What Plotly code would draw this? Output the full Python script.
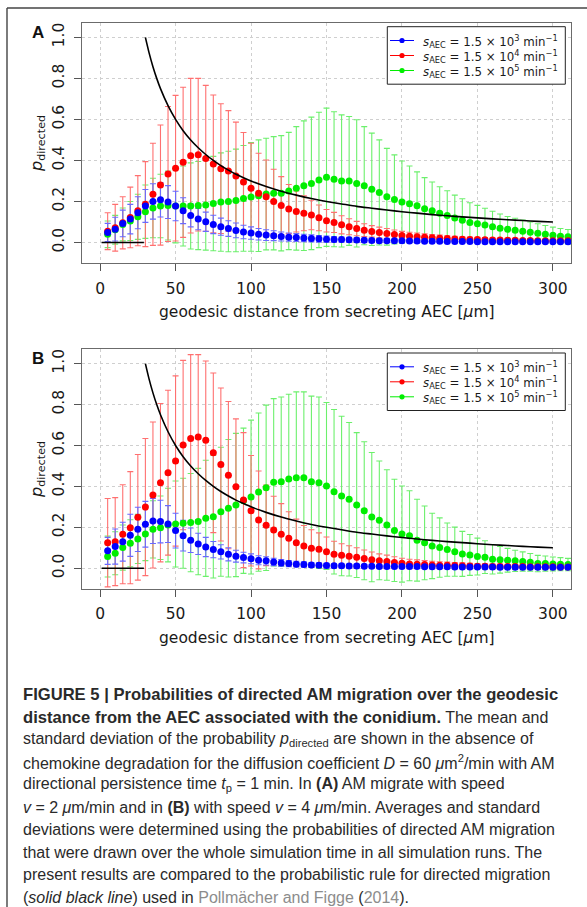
import plotly.graph_objects as go

# ---------------- data ----------------
dist = [5, 10, 15, 20, 25, 30, 35, 40, 45, 50, 55, 60, 65, 70, 75, 80, 85, 90, 95, 100,
        105, 110, 115, 120, 125, 130, 135, 140, 145, 150, 155, 160, 165, 170, 175, 180, 185, 190, 195, 200,
        205, 210, 215, 220, 225, 230, 235, 240, 245, 250, 255, 260, 265, 270, 275, 280, 285, 290, 295, 300,
        305, 310]

# Panel A (v = 2 um/min)
blue_A_mean = [0.049, 0.065, 0.093, 0.114, 0.145, 0.178, 0.200, 0.208, 0.197, 0.178, 0.155, 0.132, 0.114, 0.101, 0.088, 0.077, 0.068, 0.059, 0.051, 0.046,
               0.040, 0.036, 0.033, 0.029, 0.026, 0.024, 0.022, 0.020, 0.018, 0.016, 0.015, 0.014, 0.013, 0.012, 0.011, 0.010, 0.009, 0.009, 0.008, 0.008,
               0.007, 0.007, 0.006, 0.006, 0.006, 0.005, 0.005, 0.005, 0.005, 0.004, 0.004, 0.004, 0.004, 0.004, 0.003, 0.003, 0.003, 0.003, 0.003, 0.003,
               0.003, 0.003]
blue_A_sd = [0.044, 0.058, 0.065, 0.072, 0.078, 0.080, 0.086, 0.084, 0.080, 0.072, 0.063, 0.056, 0.052, 0.047, 0.045, 0.042, 0.038, 0.036, 0.033, 0.030,
             0.028, 0.026, 0.024, 0.022, 0.020, 0.019, 0.018, 0.017, 0.016, 0.015, 0.014, 0.013, 0.012, 0.011, 0.011, 0.010, 0.010, 0.009, 0.009, 0.008,
             0.008, 0.008, 0.007, 0.007, 0.007, 0.007, 0.006, 0.006, 0.006, 0.006, 0.006, 0.006, 0.005, 0.005, 0.005, 0.005, 0.005, 0.005, 0.005, 0.005,
             0.005, 0.005]
red_A_mean = [0.055, 0.072, 0.096, 0.122, 0.155, 0.187, 0.235, 0.280, 0.334, 0.362, 0.391, 0.423, 0.428, 0.410, 0.383, 0.360, 0.349, 0.324, 0.295, 0.264,
              0.240, 0.223, 0.200, 0.180, 0.163, 0.151, 0.142, 0.134, 0.120, 0.106, 0.098, 0.086, 0.077, 0.068, 0.060, 0.054, 0.049, 0.044, 0.039, 0.034,
              0.031, 0.028, 0.025, 0.023, 0.021, 0.019, 0.017, 0.016, 0.015, 0.014, 0.013, 0.012, 0.012, 0.011, 0.011, 0.010, 0.010, 0.009, 0.009, 0.008,
              0.008, 0.008]
red_A_sd = [0.090, 0.114, 0.127, 0.148, 0.171, 0.207, 0.249, 0.293, 0.329, 0.355, 0.366, 0.377, 0.372, 0.356, 0.336, 0.316, 0.294, 0.263, 0.241, 0.220,
            0.195, 0.179, 0.157, 0.141, 0.120, 0.100, 0.085, 0.072, 0.063, 0.055, 0.049, 0.044, 0.039, 0.035, 0.031, 0.028, 0.026, 0.024, 0.022, 0.020,
            0.019, 0.018, 0.017, 0.016, 0.015, 0.014, 0.013, 0.012, 0.012, 0.011, 0.011, 0.010, 0.010, 0.010, 0.009, 0.009, 0.009, 0.008, 0.008, 0.008,
            0.008, 0.008]
green_A_mean = [0.040, 0.062, 0.088, 0.105, 0.125, 0.150, 0.168, 0.178, 0.180, 0.178, 0.178, 0.178, 0.180, 0.183, 0.190, 0.197, 0.200, 0.205, 0.215, 0.222,
                0.228, 0.236, 0.240, 0.240, 0.251, 0.264, 0.277, 0.288, 0.305, 0.318, 0.308, 0.300, 0.300, 0.288, 0.277, 0.259, 0.244, 0.223, 0.210, 0.197,
                0.189, 0.179, 0.164, 0.155, 0.142, 0.132, 0.119, 0.109, 0.098, 0.091, 0.085, 0.077, 0.070, 0.064, 0.060, 0.055, 0.050, 0.045, 0.040, 0.035,
                0.031, 0.028]
green_A_sd = [0.065, 0.070, 0.080, 0.095, 0.110, 0.130, 0.145, 0.155, 0.168, 0.180, 0.195, 0.210, 0.215, 0.220, 0.230, 0.240, 0.245, 0.250, 0.258, 0.265,
              0.272, 0.272, 0.276, 0.281, 0.286, 0.301, 0.316, 0.323, 0.330, 0.337, 0.329, 0.322, 0.314, 0.310, 0.288, 0.274, 0.256, 0.236, 0.217, 0.200,
              0.184, 0.165, 0.152, 0.140, 0.130, 0.120, 0.112, 0.104, 0.096, 0.090, 0.082, 0.075, 0.069, 0.063, 0.058, 0.054, 0.050, 0.046, 0.043, 0.040,
              0.037, 0.035]

# Panel B (v = 4 um/min)
blue_B_mean = [0.085, 0.106, 0.130, 0.161, 0.190, 0.215, 0.231, 0.228, 0.216, 0.184, 0.159, 0.137, 0.119, 0.104, 0.091, 0.080, 0.068, 0.059, 0.052, 0.046,
               0.039, 0.036, 0.031, 0.026, 0.023, 0.020, 0.018, 0.016, 0.015, 0.013, 0.012, 0.012, 0.011, 0.011, 0.010, 0.010, 0.009, 0.009, 0.009, 0.008,
               0.008, 0.008, 0.007, 0.007, 0.007, 0.007, 0.006, 0.006, 0.006, 0.006, 0.006, 0.006, 0.005, 0.005, 0.005, 0.005, 0.005, 0.005, 0.005, 0.005,
               0.005, 0.005]
blue_B_sd = [0.066, 0.086, 0.095, 0.103, 0.108, 0.112, 0.110, 0.104, 0.090, 0.085, 0.075, 0.060, 0.052, 0.047, 0.040, 0.035, 0.032, 0.029, 0.026, 0.024,
             0.022, 0.020, 0.018, 0.016, 0.015, 0.014, 0.013, 0.012, 0.011, 0.011, 0.010, 0.010, 0.010, 0.009, 0.009, 0.009, 0.008, 0.008, 0.008, 0.008,
             0.008, 0.007, 0.007, 0.007, 0.007, 0.007, 0.007, 0.006, 0.006, 0.006, 0.006, 0.006, 0.006, 0.006, 0.006, 0.006, 0.006, 0.006, 0.006, 0.006,
             0.006, 0.006]
red_B_mean = [0.125, 0.130, 0.166, 0.198, 0.249, 0.299, 0.358, 0.418, 0.467, 0.524, 0.602, 0.634, 0.641, 0.626, 0.564, 0.507, 0.455, 0.398, 0.333, 0.281,
              0.236, 0.210, 0.187, 0.166, 0.146, 0.125, 0.109, 0.098, 0.093, 0.081, 0.068, 0.063, 0.059, 0.054, 0.047, 0.041, 0.036, 0.033, 0.028, 0.024,
              0.021, 0.020, 0.018, 0.016, 0.015, 0.014, 0.013, 0.012, 0.011, 0.010, 0.010, 0.009, 0.009, 0.008, 0.008, 0.008, 0.007, 0.007, 0.007, 0.007,
              0.006, 0.006]
red_B_sd = [0.216, 0.215, 0.242, 0.274, 0.307, 0.335, 0.357, 0.387, 0.403, 0.416, 0.414, 0.410, 0.403, 0.387, 0.390, 0.374, 0.360, 0.332, 0.330, 0.270,
            0.239, 0.197, 0.165, 0.150, 0.130, 0.115, 0.100, 0.090, 0.080, 0.072, 0.064, 0.057, 0.051, 0.046, 0.042, 0.038, 0.034, 0.031, 0.028, 0.025,
            0.023, 0.021, 0.019, 0.018, 0.017, 0.016, 0.015, 0.014, 0.013, 0.012, 0.012, 0.011, 0.011, 0.010, 0.010, 0.010, 0.009, 0.009, 0.009, 0.008,
            0.008, 0.008]
green_B_mean = [0.057, 0.073, 0.101, 0.122, 0.143, 0.167, 0.190, 0.198, 0.211, 0.216, 0.220, 0.223, 0.228, 0.244, 0.252, 0.276, 0.293, 0.309, 0.330, 0.348,
                0.372, 0.393, 0.420, 0.423, 0.436, 0.442, 0.442, 0.423, 0.418, 0.402, 0.374, 0.353, 0.337, 0.309, 0.281, 0.250, 0.234, 0.211, 0.185, 0.167,
                0.159, 0.137, 0.124, 0.109, 0.101, 0.091, 0.081, 0.070, 0.065, 0.057, 0.054, 0.044, 0.041, 0.039, 0.036, 0.033, 0.029, 0.023, 0.023, 0.021,
                0.020, 0.018]
green_B_sd = [0.100, 0.105, 0.110, 0.115, 0.120, 0.130, 0.140, 0.155, 0.180, 0.210, 0.220, 0.240, 0.260, 0.284, 0.300, 0.315, 0.336, 0.350, 0.355, 0.376,
              0.387, 0.404, 0.409, 0.414, 0.414, 0.420, 0.420, 0.418, 0.419, 0.408, 0.402, 0.390, 0.375, 0.354, 0.337, 0.316, 0.290, 0.270, 0.250, 0.235,
              0.220, 0.200, 0.180, 0.160, 0.145, 0.130, 0.120, 0.110, 0.100, 0.090, 0.080, 0.072, 0.065, 0.058, 0.052, 0.047, 0.043, 0.040, 0.037, 0.034,
              0.032, 0.030]

# probabilistic rule (solid black line)
rule_x = [1, 29, None, 30, 32.5, 35, 37.5, 40, 45, 50, 55, 60, 65, 70, 75, 80, 85, 90, 95, 100,
          110, 120, 130, 140, 150, 160, 170, 180, 190, 200, 210, 220, 230, 240, 250, 260, 270, 280, 290, 300]
rule_y = [0.0, 0.0, None, 1.000, 0.923, 0.857, 0.800, 0.750, 0.667, 0.600, 0.545, 0.500, 0.462, 0.429, 0.400, 0.375, 0.353, 0.333, 0.316, 0.300,
          0.273, 0.250, 0.231, 0.214, 0.200, 0.188, 0.176, 0.167, 0.158, 0.150, 0.143, 0.136, 0.130, 0.125, 0.120, 0.115, 0.111, 0.107, 0.103, 0.100]

x_ticks = [0, 50, 100, 150, 200, 250, 300]
y_ticks = [0.0, 0.2, 0.4, 0.6, 0.8, 1.0]
y_ticktext = ["0.0", "0.2", "0.4", "0.6", "0.8", "1.0"]

series_names = ["<i>s</i><sub>AEC</sub> = 1.5 × 10<sup>3</sup> min<sup>−1</sup>",
                "<i>s</i><sub>AEC</sub> = 1.5 × 10<sup>4</sup> min<sup>−1</sup>",
                "<i>s</i><sub>AEC</sub> = 1.5 × 10<sup>5</sup> min<sup>−1</sup>"]
series_colors = ["#0000ff", "#ff0000", "#00ee00"]
bar_colors = ["#6a6aff", "#ff7070", "#6cf06c"]

B = "<span style='font-size:16.6px'><b>"
EB = "</b></span>"
GREY = "<span style='color:#8c8c8c'>"
caption_lines = [
    B + "FIGURE 5 | Probabilities of directed AM migration over the geodesic" + EB,
    B + "distance from the AEC associated with the conidium." + EB + " The mean and",
    "standard deviation of the probability <i>p</i><sub>directed</sub> are shown in the absence of",
    "chemokine degradation for the diffusion coefficient <i>D</i> = 60 <i>μ</i>m<sup>2</sup>/min with AM",
    "directional persistence time <i>t</i><sub>p</sub> = 1 min. In <b>(A)</b> AM migrate with speed",
    "<i>v</i> = 2 <i>μ</i>m/min and in <b>(B)</b> with speed <i>v</i> = 4 <i>μ</i>m/min. Averages and standard",
    "deviations were determined using the probabilities of directed AM migration",
    "that were drawn over the whole simulation time in all simulation runs. The",
    "present results are compared to the probabilistic rule for directed migration",
    "(<i>solid black line</i>) used in " + GREY + "Pollmächer and Figge</span> (" + GREY + "2014</span>).",
]

# ---------------- layout helpers ----------------
W, H = 587, 907


def px(x):
    return x / W


def py(y):
    return 1 - y / H


panels = [
    dict(label="A", top=23.0, bottom=263.0, xa="x", ya="y",
         data=[(green_A_mean, green_A_sd), (red_A_mean, red_A_sd), (blue_A_mean, blue_A_sd)]),
    dict(label="B", top=349.3, bottom=588.7, xa="x2", ya="y2",
         data=[(green_B_mean, green_B_sd), (red_B_mean, red_B_sd), (blue_B_mean, blue_B_sd)]),
]
order = [2, 1, 0]  # green, red, blue (blue drawn on top)

PLOT_L, PLOT_R = 82.0, 571.0
FONT_AX = "DejaVu Sans"
FONT_CAP = "Liberation Sans"

fig = go.Figure()
shapes = []
annotations = []

for p in panels:
    # error bars first (all series), then points
    for k, (mean, sd) in enumerate(p["data"]):
        ci = order[k]
        fig.add_trace(go.Scatter(
            x=dist, y=mean, mode="markers", xaxis=p["xa"], yaxis=p["ya"],
            marker=dict(size=1, opacity=0, color=series_colors[ci]),
            error_y=dict(type="data", array=sd, visible=True, color=bar_colors[ci],
                         thickness=1.1, width=3),
            showlegend=False, hoverinfo="skip"))
    for k, (mean, sd) in enumerate(p["data"]):
        ci = order[k]
        fig.add_trace(go.Scatter(
            x=dist, y=mean, mode="markers", xaxis=p["xa"], yaxis=p["ya"],
            marker=dict(size=7, color=series_colors[ci], line=dict(width=0)),
            showlegend=False, hoverinfo="skip"))
    fig.add_trace(go.Scatter(
        x=rule_x, y=rule_y, mode="lines", xaxis=p["xa"], yaxis=p["ya"],
        line=dict(color="black", width=1.6, shape="spline", smoothing=0.6),
        connectgaps=False, showlegend=False, hoverinfo="skip"))

    # legend box
    top = p["top"] + 3.7
    shapes.append(dict(type="rect", xref="paper", yref="paper",
                       x0=px(387.3), x1=px(565.3), y0=py(top), y1=py(top + 57.5),
                       line=dict(color="#222", width=1), fillcolor="white", layer="above"))
    for i in range(3):
        ry = top + 13.8 + 15.0 * i
        shapes.append(dict(type="line", xref="paper", yref="paper",
                           x0=px(390), x1=px(414), y0=py(ry), y1=py(ry),
                           line=dict(color=series_colors[i], width=1), layer="above"))
        shapes.append(dict(type="circle", xref="paper", yref="paper",
                           xsizemode="pixel", ysizemode="pixel",
                           xanchor=px(402), yanchor=py(ry),
                           x0=-2.6, x1=2.6, y0=-2.6, y1=2.6,
                           fillcolor=series_colors[i], line=dict(width=0), layer="above"))
        annotations.append(dict(xref="paper", yref="paper", x=px(421.5), y=py(ry + 0.5),
                                xanchor="left", yanchor="middle", showarrow=False,
                                text=series_names[i],
                                font=dict(family=FONT_AX, size=11.8, color="#1a1a1a")))

    # panel label
    annotations.append(dict(xref="paper", yref="paper", x=px(38), y=py(p["top"] + 9.5),
                            xanchor="center", yanchor="middle", showarrow=False,
                            text="<b>" + p["label"] + "</b>",
                            font=dict(family=FONT_CAP, size=17, color="#111")))
    # axis titles
    annotations.append(dict(xref="paper", yref="paper", x=px((PLOT_L + PLOT_R) / 2),
                            y=py(p["bottom"] + 49), xanchor="center", yanchor="middle",
                            showarrow=False, text="geodesic distance from secreting AEC [<i>μ</i>m]",
                            font=dict(family=FONT_AX, size=15.5, color="#1a1a1a")))
    annotations.append(dict(xref="paper", yref="paper", x=px(37),
                            y=py((p["top"] + p["bottom"]) / 2), xanchor="center", yanchor="middle",
                            showarrow=False, textangle=-90, text="<i>p</i><sub>directed</sub>",
                            font=dict(family=FONT_AX, size=16, color="#1a1a1a")))

axis_common = dict(showline=True, mirror=True, linecolor="#6b6b6b", linewidth=1.2,
                   ticks="outside", ticklen=7, tickcolor="#555", tickwidth=1,
                   showgrid=True, gridcolor="#cfcfcf", griddash="dot", gridwidth=1,
                   zeroline=False, tickfont=dict(family=FONT_AX, size=15.5, color="#1a1a1a"))

layout_axes = {}
for i, p in enumerate(panels):
    sx = "" if i == 0 else str(i + 1)
    layout_axes["xaxis" + sx] = dict(axis_common, domain=[px(PLOT_L), px(PLOT_R)],
                                     range=[-12, 312], tickmode="array", tickvals=x_ticks,
                                     anchor="y" + sx, ticklabelstandoff=4)
    layout_axes["yaxis" + sx] = dict(axis_common, domain=[py(p["bottom"]), py(p["top"])],
                                     range=[-0.1, 1.07], tickmode="array", tickvals=y_ticks,
                                     ticktext=y_ticktext, tickangle=-90, anchor="x" + sx,
                                     ticklabelstandoff=4)

# caption
cap_top = 694.5
cap_step = 22.5
for i, line in enumerate(caption_lines):
    annotations.append(dict(xref="paper", yref="paper", x=px(21), y=py(cap_top + cap_step * i),
                            xanchor="left", yanchor="middle", showarrow=False, text=line,
                            font=dict(family=FONT_CAP, size=16, color="#2a2a2a")))

# outer frame (top and left edges)
shapes.append(dict(type="line", xref="paper", yref="paper", x0=px(7), x1=1.0, y0=py(8), y1=py(8),
                   line=dict(color="#444", width=1.4)))
shapes.append(dict(type="line", xref="paper", yref="paper", x0=px(7), x1=px(7), y0=py(8), y1=0.0,
                   line=dict(color="#444", width=1.4)))

fig.update_layout(width=W, height=H, margin=dict(l=0, r=0, t=0, b=0),
                  paper_bgcolor="white", plot_bgcolor="white",
                  shapes=shapes, annotations=annotations, showlegend=False,
                  hovermode=False, **layout_axes)

fig.write_html("out.html", config={"displayModeBar": False})
